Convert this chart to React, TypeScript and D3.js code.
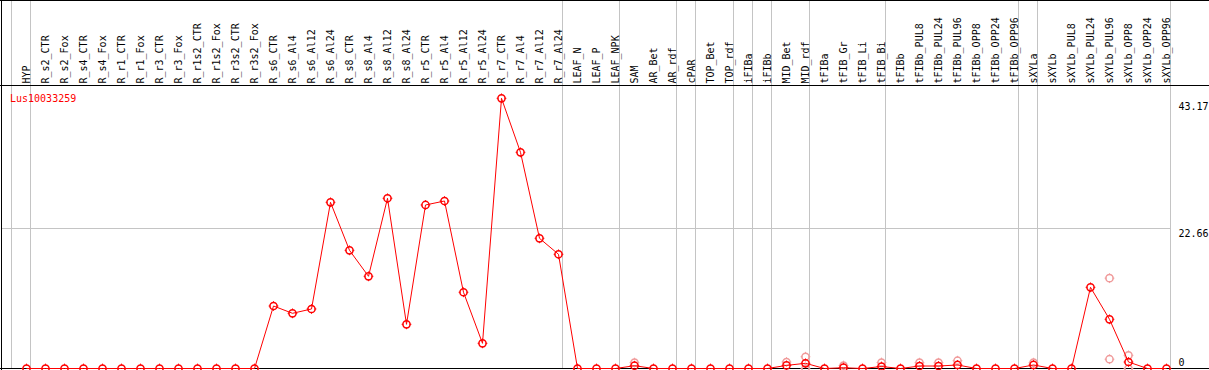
import React from "react";
import * as d3 from "d3";

const categories = [
  "HYP", "R_s2_CTR", "R_s2_Fox", "R_s4_CTR", "R_s4_Fox", "R_r1_CTR", "R_r1_Fox", "R_r3_CTR", "R_r3_Fox",
  "R_r1s2_CTR", "R_r1s2_Fox", "R_r3s2_CTR", "R_r3s2_Fox", "R_s6_CTR", "R_s6_Al4", "R_s6_Al12", "R_s6_Al24",
  "R_s8_CTR", "R_s8_Al4", "R_s8_Al12", "R_s8_Al24", "R_r5_CTR", "R_r5_Al4", "R_r5_Al12", "R_r5_Al24",
  "R_r7_CTR", "R_r7_Al4", "R_r7_Al12", "R_r7_Al24", "LEAF_N", "LEAF_P", "LEAF_NPK", "SAM", "AR_Bet", "AR_rdf",
  "cPAR", "TOP_Bet", "TOP_rdf", "iFIBa", "iFIBb", "MID_Bet", "MID_rdf", "tFIBa", "tFIB_Gr", "tFIB_Li", "tFIB_Bi",
  "tFIBb", "tFIBb_PUL8", "tFIBb_PUL24", "tFIBb_PUL96", "tFIBb_OPP8", "tFIBb_OPP24", "tFIBb_OPP96", "sXYLa",
  "sXYLb", "sXYLb_PUL8", "sXYLb_PUL24", "sXYLb_PUL96", "sXYLb_OPP8", "sXYLb_OPP24", "sXYLb_OPP96",
];

const meanValues = [
  0, 0, 0, 0, 0, 0, 0, 0, 0, 0, 0, 0, 0,
  10.1, 8.92, 9.62, 26.86, 19.1, 14.9, 27.51, 7.14, 26.43, 27.07, 12.32, 4.07,
  43.67, 34.94, 21.04, 18.46, 0, 0, 0, 0.45, 0, 0, 0, 0, 0, 0, 0,
  0.5, 0.84, 0, 0.13, 0, 0.32, 0, 0.4, 0.4, 0.57, 0, 0, 0, 0.57,
  0, 0, 13.12, 7.95, 1.05, 0, 0,
];

// replicate measurements (null = none shown)
const replicateA: (number | null)[] = categories.map(() => null);
const replicateB: (number | null)[] = categories.map(() => null);
const repAEntries: [string, number][] = [
  ["SAM", 0.95], ["MID_Bet", 1.05], ["MID_rdf", 1.9], ["tFIB_Gr", 0.48], ["tFIB_Bi", 0.97],
  ["tFIBb_PUL8", 0.94], ["tFIBb_PUL24", 0.94], ["tFIBb_PUL96", 1.26], ["sXYLa", 0.94],
  ["sXYLb_PUL96", 14.6], ["sXYLb_OPP8", 2.13],
];
const repBEntries: [string, number][] = [["MID_rdf", 0], ["sXYLb_PUL96", 1.5], ["sXYLb_OPP8", 0]];
repAEntries.forEach(([c, v]) => (replicateA[categories.indexOf(c)] = v));
repBEntries.forEach(([c, v]) => (replicateB[categories.indexOf(c)] = v));

// group separators come after these category indices
const groupEnds = [-1, 0, 28, 31, 34, 35, 37, 38, 39, 41, 45, 52, 53, 60];
const yLabels = [43.17, 22.66, 0];
const yGrid = [22.66];
const geneName = "Lus10033259";

const W = 1209;
const H = 370;
const FONT = "'DejaVu Sans Mono', monospace";

function Marker({ x, y, color }: { x: number; y: number; color: string }) {
  const r = 3.6;
  return (
    <g>
      <circle cx={x} cy={y} r={r} fill="none" stroke={color} strokeWidth={1.5} />
      <line x1={x} x2={x} y1={y - r - 1.3} y2={y + r + 1.3} stroke={color} strokeWidth={0.9} strokeDasharray={`1.8 ${2 * r - 1} 1.8`} />
      <line x1={x - r - 1.3} x2={x + r + 1.3} y1={y} y2={y} stroke={color} strokeWidth={0.9} strokeDasharray={`1.8 ${2 * r - 1} 1.8`} />
    </g>
  );
}

export default function App() {
  const x = d3.scaleLinear().domain([0, categories.length - 1]).range([26.5, 1166.5]);
  const y = d3.scaleLinear().domain([0, 45.74]).range([368.5, 85.5]);
  const line = d3
    .line<number>()
    .x((_, i) => x(i))
    .y((d) => y(d));

  const reps: { i: number; v: number }[] = [];
  replicateA.forEach((v, i) => v != null && reps.push({ i, v }));
  replicateB.forEach((v, i) => v != null && reps.push({ i, v }));

  return (
    <svg
      width={W}
      height={H}
      style={{ position: "absolute", left: 0, top: 0, background: "#fff" }}
      fontFamily={FONT}
    >
      <rect x={0} y={0} width={W} height={H} fill="#fff" />
      {/* vertical group separators */}
      {groupEnds.map((g) => (
        <line key={g} x1={x(g) + 4} x2={x(g) + 4} y1={0} y2={369} stroke="#c4c4c4" strokeWidth={1} shapeRendering="crispEdges" />
      ))}
      {/* horizontal gridline */}
      {yGrid.map((v) => (
        <line key={v} x1={1} x2={x(60) + 4} y1={Math.round(y(v)) + 0.5} y2={Math.round(y(v)) + 0.5} stroke="#c4c4c4" strokeWidth={1} shapeRendering="crispEdges" />
      ))}
      {/* frame */}
      <line x1={0} x2={W} y1={0.5} y2={0.5} stroke="#000" strokeWidth={1} shapeRendering="crispEdges" />
      <line x1={0} x2={W} y1={85.5} y2={85.5} stroke="#000" strokeWidth={1} shapeRendering="crispEdges" />
      <line x1={1.5} x2={1.5} y1={0} y2={370} stroke="#000" strokeWidth={1} shapeRendering="crispEdges" />
      <line x1={0} x2={W} y1={368.5} y2={368.5} stroke="#000" strokeWidth={1} shapeRendering="crispEdges" />

      {/* column labels */}
      {categories.map((c, i) => (
        <text key={c} transform={`translate(${x(i) + 3},83.5) rotate(-90)`} fontSize={10} fill="#000">
          {c}
        </text>
      ))}

      {/* gene name */}
      <text x={10} y={101.5} fontSize={10} fill="#ff0000">
        {geneName}
      </text>

      {/* y labels */}
      {yLabels.map((v) => (
        <text key={v} x={1178.5} y={Math.min(y(v) + 8.8, 365.5)} fontSize={10} fill="#000">
          {v}
        </text>
      ))}

      {/* replicate points */}
      {reps.map((r, k) => (
        <Marker key={k} x={x(r.i)} y={y(r.v)} color="#f09a9a" />
      ))}

      {/* mean line */}
      <path d={line(meanValues) || ""} fill="none" stroke="#ff0000" strokeWidth={1} />
      {meanValues.map((v, i) => (
        <Marker key={i} x={x(i)} y={y(v)} color="#ff0000" />
      ))}
    </svg>
  );
}
